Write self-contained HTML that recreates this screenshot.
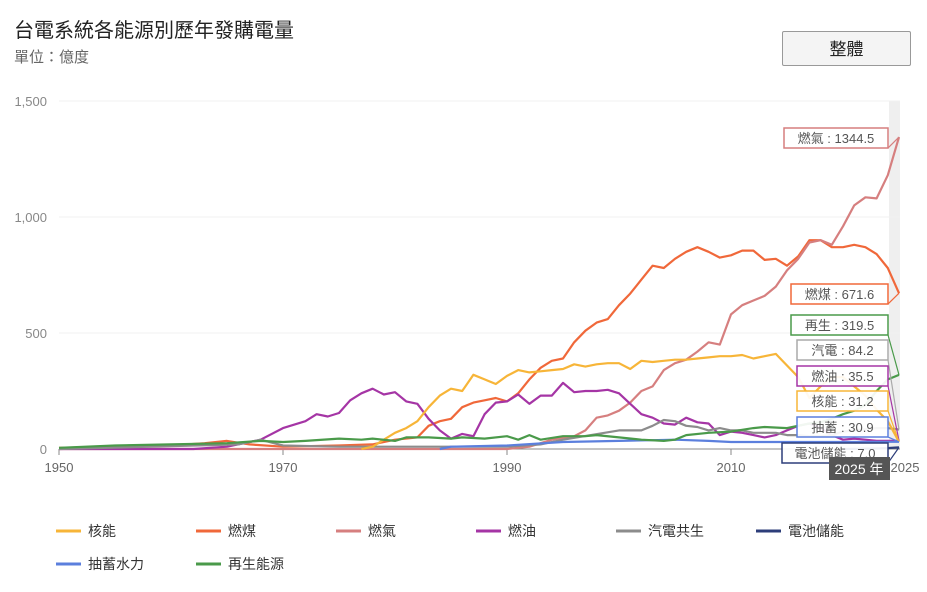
<!DOCTYPE html>
<html><head><meta charset="utf-8"><style>
body{margin:0;background:#fff;font-family:"Liberation Sans","Noto Sans CJK TC",sans-serif;}
#w{position:relative;width:927px;height:592px;overflow:hidden}
.t{position:absolute;left:14px;top:14px;font-size:20px;color:#222}
.s{position:absolute;left:14px;top:46px;font-size:15px;color:#666}
.b{position:absolute;left:782px;top:31px;width:129px;height:35px;border:1px solid #999;background:#f4f4f4;font-size:17px;text-align:center;line-height:35px;color:#222;box-sizing:border-box;border-radius:2px}
</style></head><body><div id="w">
<div class="t">台電系統各能源別歷年發購電量</div>
<div class="s">單位：億度</div>
<div class="b">整體</div>
<svg id="g" width="927" height="592" style="position:absolute;left:0;top:0"></svg>
</div>
<script>
const X=y=>59+(y-1950)*11.2, Y=v=>449-v*0.232;
const S=[
["核能","#f7b538",{1977:0,1978:10,1979:40,1980:70,1981:90,1982:120,1983:180,1984:230,1985:260,1986:250,1987:320,1988:300,1989:280,1990:315,1991:340,1992:330,1993:335,1994:340,1995:345,1996:365,1997:355,1998:365,1999:370,2000:370,2001:345,2002:380,2003:375,2004:380,2005:385,2006:385,2007:390,2008:395,2009:400,2010:400,2011:405,2012:390,2013:400,2014:410,2015:360,2016:310,2017:220,2018:270,2019:310,2020:310,2021:270,2022:230,2023:170,2024:120,2025:31.2}],
["燃煤","#f0683a",{1950:5,1960:15,1963:25,1965:35,1967:20,1970:10,1975:15,1978:20,1980:40,1982:50,1983:100,1984:120,1985:130,1986:180,1987:200,1988:210,1989:220,1990:205,1991:240,1992:300,1993:350,1994:380,1995:390,1996:460,1997:510,1998:545,1999:560,2000:620,2001:670,2002:730,2003:790,2004:780,2005:820,2006:850,2007:870,2008:850,2009:825,2010:835,2011:855,2012:855,2013:815,2014:820,2015:790,2016:830,2017:900,2018:900,2019:870,2020:870,2021:880,2022:870,2023:840,2024:780,2025:671.6}],
["燃氣","#d67f7f",{1950:0,1990:0,1992:10,1994:40,1996:55,1997:80,1998:135,1999:145,2000:165,2001:200,2002:250,2003:270,2004:340,2005:370,2006:385,2007:420,2008:460,2009:450,2010:580,2011:620,2012:640,2013:660,2014:700,2015:770,2016:820,2017:890,2018:900,2019:880,2020:960,2021:1050,2022:1085,2023:1080,2024:1180,2025:1344.5}],
["燃油","#a535a5",{1950:0,1962:0,1965:10,1968:40,1970:90,1972:120,1973:150,1974:140,1975:155,1976:210,1977:240,1978:260,1979:235,1980:245,1981:205,1982:195,1983:130,1984:80,1985:45,1986:65,1987:55,1988:150,1989:200,1990:205,1991:235,1992:195,1993:230,1994:230,1995:285,1996:245,1997:250,1998:250,1999:255,2000:240,2001:195,2002:150,2003:135,2004:110,2005:105,2006:135,2007:115,2008:110,2009:60,2010:75,2011:70,2012:60,2013:50,2014:60,2015:80,2016:100,2017:110,2018:90,2019:60,2020:40,2021:45,2022:40,2023:35,2024:35,2025:35.5}],
["汽電共生","#8c8c8c",{1950:0,1966:20,1968:40,1970:15,1975:10,1990:10,1993:20,1995:40,2000:80,2002:80,2003:100,2004:125,2005:120,2006:100,2007:95,2008:80,2009:90,2010:80,2011:80,2012:70,2013:70,2014:70,2015:60,2016:60,2017:55,2018:55,2019:60,2020:75,2021:80,2022:85,2023:90,2024:90,2025:84.2}],
["電池儲能","#2d3e7a",{2020:0,2023:2,2024:4,2025:7}],
["抽蓄水力","#5b7fdd",{1984:0,1985:10,1990:15,1995:30,2000:35,2005:40,2008:35,2010:30,2015:30,2020:30,2025:30.9}],
["再生能源","#4a9a4a",{1950:5,1955:15,1960:20,1965:25,1968:35,1970:30,1972:35,1975:45,1977:40,1978:45,1980:35,1981:50,1983:50,1985:45,1986:50,1988:45,1990:55,1991:40,1992:60,1993:40,1995:55,1997:55,1998:60,2000:50,2002:40,2004:35,2005:40,2006:60,2008:70,2010:75,2012:90,2013:95,2015:90,2017:110,2018:115,2019:130,2020:150,2021:165,2022:190,2023:250,2024:300,2025:319.5}]
];
let h='<rect x="889" y="101" width="11" height="348" fill="#efefef"/>';
[0,500,1000,1500].forEach(v=>{h+=`<line x1="59" x2="900" y1="${Y(v)}" y2="${Y(v)}" stroke="#f0f0f0"/><text x="47" y="${Y(v)+5}" text-anchor="end" font-size="13" fill="#888">${v.toLocaleString('en')}</text>`});
h+=`<line x1="59" x2="900" y1="449" y2="449" stroke="#888"/>`;
[1950,1970,1990,2010].forEach(y=>{h+=`<line x1="${X(y)}" x2="${X(y)}" y1="449" y2="455" stroke="#888"/><text x="${X(y)}" y="472" text-anchor="middle" font-size="13" fill="#666">${y}</text>`});
h+=`<text x="905" y="472" text-anchor="middle" font-size="13" fill="#666">2025</text>`;
[5,1,2,3,4,0,6,7].forEach(i=>{const s=S[i];const p=Object.keys(s[2]).map(k=>X(+k).toFixed(1)+','+Y(s[2][k]).toFixed(1)).join(' ');h+=`<polyline points="${p}" fill="none" stroke="${s[1]}" stroke-width="2.2" stroke-linejoin="round"/>`});
const L=[["燃氣 : 1344.5","#d67f7f",784,128,1344.5],["燃煤 : 671.6","#f0683a",791,284,671.6],["再生 : 319.5","#4a9a4a",791,315,319.5],["汽電 : 84.2","#aaa",797,340,84.2],["燃油 : 35.5","#a535a5",797,366,35.5],["核能 : 31.2","#f7b538",797,391,31.2],["抽蓄 : 30.9","#5b7fdd",797,417,30.9],["電池儲能 : 7.0","#2d3e7a",782,443,7]];
L.forEach(l=>{const r=888,ty=Y(l[4]);h+=`<polyline points="${r},${l[3]+20} ${X(2025)},${ty}" fill="none" stroke="${l[1]}" stroke-width="1.2"/><rect x="${l[2]}" y="${l[3]}" width="${r-l[2]}" height="20" fill="#fff" fill-opacity="0.92" stroke="${l[1]}" stroke-width="1.5"/><text x="${(l[2]+r)/2}" y="${l[3]+15}" text-anchor="middle" font-size="13" fill="#555">${l[0]}</text>`});
h+=`<rect x="829" y="457" width="61" height="23" fill="#555"/><text x="859" y="474" text-anchor="middle" font-size="14" fill="#fff">2025 年</text>`;
S.forEach((s,i)=>{const x=56+(i%6)*140,y=i<6?531:564;h+=`<line x1="${x}" x2="${x+25}" y1="${y}" y2="${y}" stroke="${s[1]}" stroke-width="3"/><text x="${x+32}" y="${y+5}" font-size="14" fill="#333">${s[0]}</text>`});
document.getElementById('g').innerHTML=h;
</script></body></html>
